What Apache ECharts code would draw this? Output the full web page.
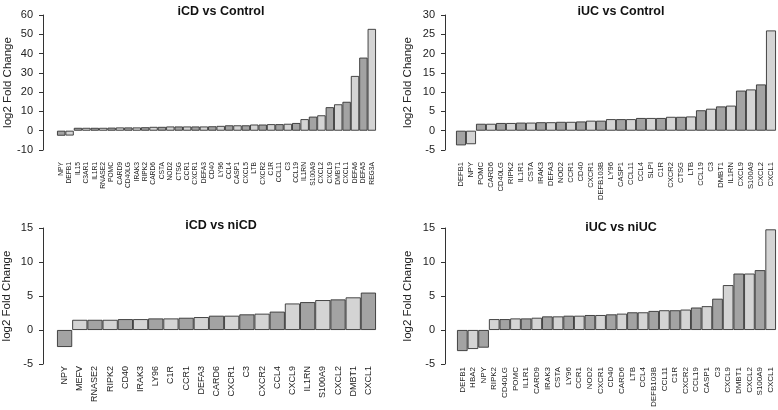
<!DOCTYPE html>
<html>
<head>
<meta charset="utf-8">
<script src="https://cdn.jsdelivr.net/npm/echarts@6/dist/echarts.min.js"></script>
<style>html,body{margin:0;padding:0;background:#fff}#c{width:778px;height:410px}</style>
</head>
<body>
<div id="c"></div>
<script>
// Panel 1: iCD vs Control
var cat1 = ['NPY','DEFB1','IL15','C3AR1','IL1R1','RNASE2','POMC','CARD9','CD40LG','IRAK3','RIPK2','CARD6','CSTA','NOD2','CTSG','CCR1','CXCR1','DEFA3','CD40','LY96','CCL4','CASP1','CXCL5','LTB','CXCR2','C1R','CCL11','C3','CCL19','IL1RN','S100A9','CXCL2','CXCL9','DMBT1','CXCL1','DEFA6','DEFA5','REG3A'];
var val1 = [-2.6,-2.5,1.5,1.5,1.5,1.5,1.6,1.7,1.7,1.7,1.8,2.0,2.0,2.2,2.2,2.2,2.2,2.2,2.3,2.5,2.8,2.8,2.8,3.2,3.2,3.4,3.4,3.6,4.0,6.0,7.3,8.0,12.2,13.7,15.0,28.4,37.9,52.8];
var ticks1 = [-10, 60, 10];
// Panel 2: iUC vs Control
var cat2 = ['DEFB1','NPY','POMC','CARD6','CD40LG','RIPK2','IL1R1','CSTA','IRAK3','DEFA3','NOD2','CCR1','CD40','CXCR1','DEFB103B','LY96','CASP1','CCL11','CCL4','SLPI','C1R','CXCR2','CTSG','LTB','CCL19','C3','DMBT1','IL1RN','CXCL9','S100A9','CXCL2','CXCL1'];
var val2 = [-3.8,-3.5,1.8,1.8,2.0,2.0,2.1,2.1,2.2,2.2,2.3,2.3,2.4,2.6,2.6,3.0,3.0,3.0,3.3,3.3,3.3,3.6,3.6,3.7,5.3,5.7,6.3,6.5,10.4,10.7,12.0,26.0];
var ticks2 = [-5, 30, 5];
// Panel 3: iCD vs niCD
var cat3 = ['NPY','MEFV','RNASE2','RIPK2','CD40','IRAK3','LY96','C1R','CCR1','DEFA3','CARD6','CXCR1','C3','CXCR2','CCL4','CXCL9','IL1RN','S100A9','CXCL2','DMBT1','CXCL1'];
var val3 = [-2.5,1.5,1.5,1.5,1.6,1.6,1.7,1.7,1.8,1.9,2.1,2.1,2.3,2.4,2.7,3.9,4.1,4.4,4.5,4.8,5.5];
var ticks3 = [-5, 15, 5];
// Panel 4: iUC vs niUC
var cat4 = ['DEFB1','HBA2','NPY','RIPK2','CD40LG','POMC','IL1R1','CARD9','IRAK3','CSTA','LY96','CCR1','NOD2','CXCR1','CD40','CARD6','LTB','CCL4','DEFB103B','CCL11','C1R','CXCR2','CCL19','CASP1','C3','CXCL9','DMBT1','CXCL2','S100A9','CXCL1'];
var val4 = [-3.1,-2.8,-2.6,1.6,1.6,1.7,1.7,1.8,2.0,2.0,2.1,2.1,2.2,2.2,2.3,2.4,2.6,2.6,2.8,2.9,2.9,3.0,3.3,3.5,4.6,6.6,8.3,8.3,8.8,14.8];
var ticks4 = [-5, 15, 5];
var titles = ['iCD vs Control','iUC vs Control','iCD vs niCD','iUC vs niUC'];

var FONT = '"Liberation Sans", Arial, Helvetica, sans-serif';
var DARK = '#a3a3a3', LIGHT = '#d4d4d4';

var layout = [
  {left:57, top:15, width:319, height:135, off:14, nameGap:29, lblMargin:12, lblSize:6.7, tx:216, ty:0},
  {left:456, top:15, width:320, height:135, off:11, nameGap:31, lblMargin:12, lblSize:7.6, tx:616, ty:0},
  {left:57, top:228, width:319, height:136, off:14, nameGap:30, lblMargin:2, lblSize:9, tx:216, ty:214},
  {left:457, top:228, width:319, height:136, off:12, nameGap:31, lblMargin:3, lblSize:8, tx:616, ty:216}
];
var cats = [cat1,cat2,cat3,cat4], vals = [val1,val2,val3,val4], ticks = [ticks1,ticks2,ticks3,ticks4];

var option = {animation:false, backgroundColor:'#fff', title:[], grid:[], xAxis:[], yAxis:[], series:[]};
for (var i=0;i<4;i++){
  var L = layout[i];
  option.title.push({text:titles[i], left:L.tx, top:L.ty, textAlign:'center',
    textStyle:{fontFamily:FONT, fontSize:12.5, fontWeight:'bold', color:'#111'}});
  option.grid.push({left:L.left, top:L.top, width:L.width, height:L.height, containLabel:false});
  option.xAxis.push({type:'category', gridIndex:i, data:cats[i], boundaryGap:true,
    axisLine:{show:false}, axisTick:{show:false}, splitLine:{show:false},
    axisLabel:{interval:0, rotate:90, margin:L.lblMargin, fontFamily:FONT, fontSize:L.lblSize, color:'#222'}});
  option.yAxis.push({type:'value', gridIndex:i, min:ticks[i][0], max:ticks[i][1], interval:ticks[i][2],
    offset:L.off, name:'log2 Fold Change', nameLocation:'middle', nameGap:L.nameGap, nameMoveOverlap:false,
    nameTextStyle:{fontFamily:FONT, fontSize:11.5, color:'#222'},
    axisLine:{show:true, lineStyle:{color:'#333', width:1}},
    axisTick:{show:true, length:4, lineStyle:{color:'#333'}},
    splitLine:{show:false},
    axisLabel:{margin:10, fontFamily:FONT, fontSize:11, color:'#222'}});
  option.series.push({type:'bar', xAxisIndex:i, yAxisIndex:i, data:vals[i], barCategoryGap:'0%',
    itemStyle:{borderColor:'#333', borderWidth:0.9,
      color:function(p){return p.dataIndex%2===0?DARK:LIGHT;}}});
}
var chart = echarts.init(document.getElementById('c'), null, {renderer:'canvas'});
chart.setOption(option);
</script>
</body>
</html>
